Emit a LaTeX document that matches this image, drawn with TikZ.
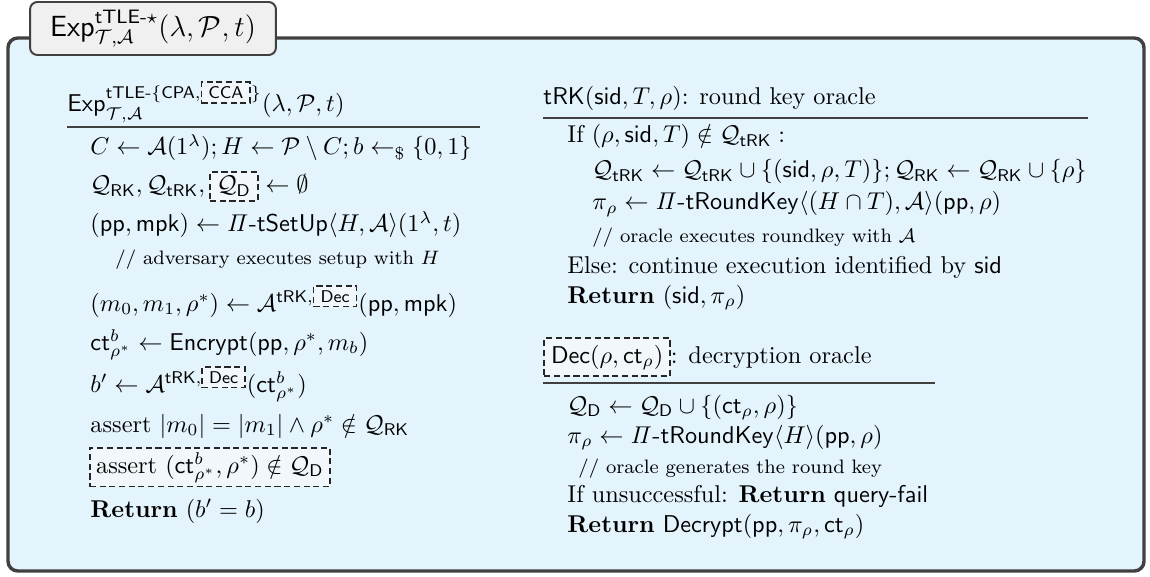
\documentclass[tikz,border=0pt]{standalone}
\usepackage{amsmath}
\usepackage{amssymb}

\definecolor{gamebg}{RGB}{228,244,253}
\definecolor{tabbg}{RGB}{240,240,240}
\definecolor{boxbg}{RGB}{241,247,250}
\definecolor{edge}{RGB}{64,64,64}

% dashed box for the CCA parts
\newcommand{\dbx}[1]{\tikz[baseline=(dbx.base)]\node[draw=black!85, fill=boxbg, dash pattern=on 2.5pt off 1.5pt, line width=.65pt, inner xsep=2.8pt, inner ysep=1.8pt, anchor=base] (dbx) {#1};}

\begin{document}
\begin{tikzpicture}[x=0.01446cm, y=-0.01446cm,
	frame/.style={draw=edge, line width=1.4pt, fill=gamebg, rounded corners=4pt},
	tab/.style={draw=edge, line width=.8pt, fill=tabbg, rounded corners=3pt, minimum width=101.2pt, minimum height=21.8pt, inner sep=0pt, font=\large},
	code/.style={anchor=base west, inner sep=0pt},
	note/.style={code, font=\footnotesize},
	rule/.style={draw=edge, line width=.7pt},
	dline/.style={code, draw=black!85, fill=boxbg, dash pattern=on 2.5pt off 1.5pt, line width=.65pt, inner xsep=2.6pt, inner ysep=1.8pt}]
		\useasboundingbox (0,0) rectangle (1150,577);
		\draw[frame] (8,38) rectangle (1144,571);
		\node[tab] (title) at (153,28.5) {$\mathsf{Exp}^{\mathsf{tTLE}\textsf{-}\star}_{\mathcal{T},\mathcal{A}}(\lambda,\mathcal{P},t)$};
		
		% game
		\node[code] (game) at (67,112) {$\mathsf{Exp}^{\mathsf{tTLE}\textsf{-}\{\mathsf{CPA},\dbx{$\scriptstyle\mathsf{CCA}$}\}}_{\mathcal{T},\mathcal{A}}(\lambda,\mathcal{P},t)$};
		\draw[rule] (67,127) -- (480,127);
		\node[code] (g1) at (90,155) {$C \leftarrow \mathcal{A}(1^\lambda); H \leftarrow \mathcal{P}\setminus C; b \leftarrow_{\$} \{0,1\}$};
		\node[code] (g2) at (90,193) {$\mathcal{Q}_{\mathsf{RK}}, \mathcal{Q}_{\mathsf{tRK}}, \dbx{$\mathcal{Q}_{\mathsf{D}}$} \leftarrow \emptyset$};
		\node[code] (g3) at (90,232) {$(\mathsf{pp},\mathsf{mpk}) \leftarrow \mathit{\Pi}\text{-}\mathsf{tSetUp}\langle H,\mathcal{A}\rangle(1^\lambda,t)$};
		\node[note] (g4) at (115,265) {// adversary executes setup with $H$};
		\node[code] (g5) at (90,311) {$(m_0,m_1,\rho^*) \leftarrow \mathcal{A}^{\mathsf{tRK},\dbx{$\scriptstyle\mathsf{Dec}$}}(\mathsf{pp},\mathsf{mpk})$};
		\node[code] (g6) at (90,350) {$\mathsf{ct}^b_{\rho^*} \leftarrow \mathsf{Encrypt}(\mathsf{pp},\rho^*,m_b)$};
		\node[code] (g7) at (90,392) {$b' \leftarrow \mathcal{A}^{\mathsf{tRK},\dbx{$\scriptstyle\mathsf{Dec}$}}(\mathsf{ct}^b_{\rho^*})$};
		\node[code] (g8) at (90,432) {assert $|m_0| = |m_1| \land \rho^* \notin \mathcal{Q}_{\mathsf{RK}}$};
		\node[dline] (g9) at (89,473) {\strut assert $(\mathsf{ct}^b_{\rho^*},\rho^*) \notin \mathcal{Q}_{\mathsf{D}}$};
		\node[code] (g10) at (90,517) {\textbf{Return} $(b' = b)$};
		
		% round key oracle
		\node[code] (rk) at (543,105) {$\mathsf{tRK}(\mathsf{sid},T,\rho)$: round key oracle};
		\draw[rule] (543,118) -- (1088,118);
		\node[code] (rk1) at (567,143) {If $(\rho,\mathsf{sid},T) \notin \mathcal{Q}_{\mathsf{tRK}} :$};
		\node[code] (rk2) at (592,178) {$\mathcal{Q}_{\mathsf{tRK}} \leftarrow \mathcal{Q}_{\mathsf{tRK}} \cup \{(\mathsf{sid},\rho,T)\}; \mathcal{Q}_{\mathsf{RK}} \leftarrow \mathcal{Q}_{\mathsf{RK}} \cup \{\rho\}$};
		\node[code] (rk3) at (592,210) {$\pi_\rho \leftarrow \mathit{\Pi}\text{-}\mathsf{tRoundKey}\langle(H \cap T),\mathcal{A}\rangle(\mathsf{pp},\rho)$};
		\node[note] (rk4) at (592,243) {// oracle executes roundkey with $\mathcal{A}$};
		\node[code] (rk5) at (567,273) {Else: continue execution identified by $\mathsf{sid}$};
		\node[code] (rk6) at (567,303) {\textbf{Return} $(\mathsf{sid},\pi_\rho)$};
		
		% decryption oracle
		\node[code] (dec) at (543,363) {\dbx{\strut$\mathsf{Dec}(\rho,\mathsf{ct}_\rho)$}: decryption oracle};
		\draw[rule] (543,383) -- (935,383);
		\node[code] (dec1) at (567,413) {$\mathcal{Q}_{\mathsf{D}} \leftarrow \mathcal{Q}_{\mathsf{D}} \cup \{(\mathsf{ct}_\rho,\rho)\}$};
		\node[code] (dec2) at (567,443) {$\pi_\rho \leftarrow \mathit{\Pi}\text{-}\mathsf{tRoundKey}\langle H\rangle(\mathsf{pp},\rho)$};
		\node[note] (dec3) at (578,473) {// oracle generates the round key};
		\node[code] (dec4) at (567,502) {If unsuccessful: \textbf{Return} \textsf{query-fail}};
		\node[code] (dec5) at (567,532) {\textbf{Return} $\mathsf{Decrypt}(\mathsf{pp},\pi_\rho,\mathsf{ct}_\rho)$};
	\end{tikzpicture}
\end{document}
